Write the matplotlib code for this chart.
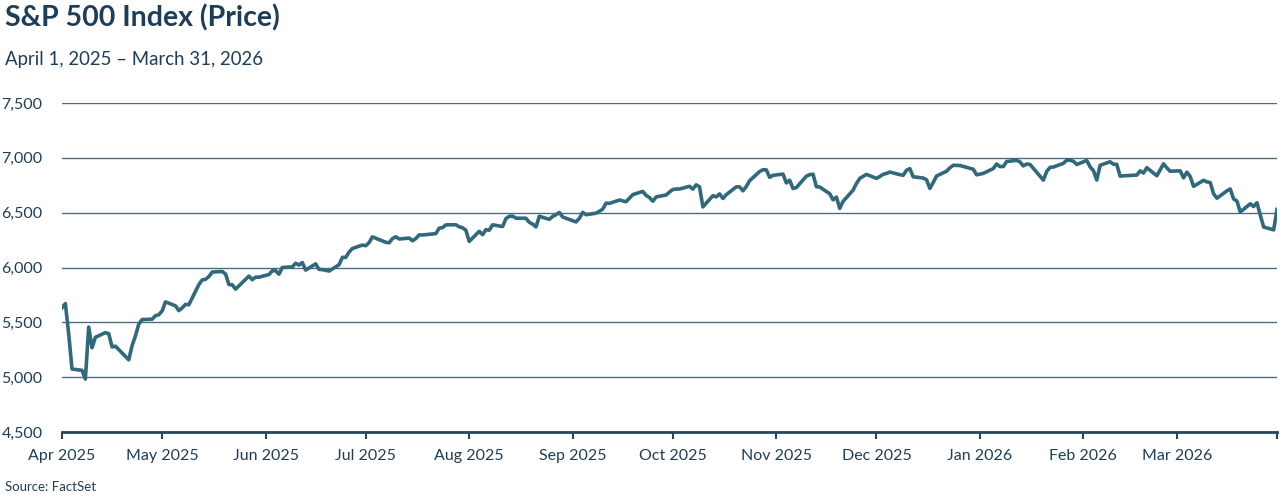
import pandas as pd
import numpy as np
import matplotlib
matplotlib.use("Agg")
import matplotlib.pyplot as plt
import matplotlib.dates as mdates
from matplotlib.ticker import FuncFormatter

# daily closes, by month
apr_2025 = [5633.07, 5670.97, 5396.52, 5074.08, 5062.25, 4982.77, 5456.90, 5268.05, 5363.36, 5405.97,
            5396.63, 5275.70, 5282.70, 5158.20, 5287.76, 5375.86, 5484.77, 5525.21, 5528.75, 5560.83, 5569.06]
may_2025 = [5604.14, 5686.67, 5650.38, 5606.91, 5631.28, 5663.94, 5659.91, 5844.19, 5886.55, 5892.58,
            5916.93, 5958.38, 5963.60, 5940.46, 5844.61, 5842.01, 5802.82, 5921.54, 5888.55, 5912.17, 5911.69]
jun_2025 = [5935.94, 5970.37, 5970.81, 5939.30, 6000.36, 6005.88, 6038.81, 6022.24, 6045.26, 5976.97,
            6033.11, 5982.72, 5980.87, 5967.84, 6025.17, 6092.18, 6092.16, 6141.02, 6173.07, 6204.95]
jul_2025 = [6198.01, 6227.42, 6279.35, 6229.98, 6225.52, 6263.26, 6280.46, 6259.75, 6268.56, 6243.76, 6263.70,
            6297.36, 6296.79, 6305.60, 6309.62, 6358.91, 6363.35, 6388.64, 6389.77, 6370.86, 6362.90, 6339.39]
aug_2025 = [6238.01, 6329.94, 6299.19, 6345.06, 6340.00, 6389.45, 6373.45, 6445.76, 6466.58, 6468.54,
            6449.80, 6449.15, 6411.37, 6395.78, 6370.17, 6466.91, 6439.32, 6465.94, 6481.40, 6501.86, 6460.26]
sep_2025 = [6415.54, 6448.26, 6502.08, 6481.50, 6495.15, 6512.61, 6532.04, 6587.47, 6584.29, 6615.28,
            6606.76, 6600.35, 6631.96, 6664.36, 6693.75, 6656.92, 6637.97, 6604.72, 6643.70, 6661.21, 6688.46]
oct_2025 = [6711.20, 6715.35, 6715.79, 6740.28, 6714.59, 6753.72, 6735.11, 6552.51, 6654.72, 6644.31, 6671.06, 6629.07,
            6664.01, 6735.13, 6735.35, 6699.40, 6738.44, 6791.69, 6875.16, 6890.89, 6890.59, 6822.34, 6840.20]
nov_2025 = [6851.97, 6771.55, 6796.29, 6720.32, 6728.80, 6832.43, 6846.61, 6850.92, 6737.49, 6734.11,
            6672.41, 6617.32, 6642.16, 6538.76, 6602.99, 6705.12, 6765.88, 6812.61, 6849.09]
dec_2025 = [6812.63, 6829.37, 6849.72, 6857.12, 6870.40, 6846.51, 6840.51, 6886.68, 6901.00, 6827.41, 6816,
            6800, 6721, 6775, 6834, 6878, 6909, 6932, 6930, 6905, 6896, 6845]
jan_2026 = [6858, 6902, 6944, 6920, 6921, 6966, 6977, 6963, 6926, 6944,
            6940, 6797, 6876, 6913, 6916, 6950, 6979, 6978, 6969, 6939]
feb_2026 = [6976, 6918, 6883, 6798, 6932, 6964, 6942, 6941, 6833, 6836,
            6843, 6881, 6861, 6910, 6837, 6890, 6946, 6908, 6878]
mar_2026 = [6881, 6817, 6869, 6830, 6740, 6795, 6781, 6775, 6672, 6632, 6699,
            6716, 6625, 6606, 6506, 6581, 6556, 6591, 6477, 6369, 6343, 6529]

holidays = ["2025-04-18", "2025-05-26", "2025-06-19", "2025-07-04", "2025-09-01",
            "2025-11-27", "2025-12-25", "2026-01-01", "2026-01-19", "2026-02-16"]

closes = (apr_2025 + may_2025 + jun_2025 + jul_2025 + aug_2025 + sep_2025 +
          oct_2025 + nov_2025 + dec_2025 + jan_2026 + feb_2026 + mar_2026)
days = pd.bdate_range("2025-04-01", "2026-03-31")
days = days[~days.isin(pd.to_datetime(holidays))]
assert len(days) == len(closes)

text_col = "#1e3d58"
line_col = "#30697b"
grid_col = "#4f6b80"

plt.rcParams["font.family"] = ["Lato", "DejaVu Sans"]

fig = plt.figure(figsize=(12.8, 4.97), dpi=100)
ax = fig.add_axes([62 / 1280, 65 / 497, 1215 / 1280, 329 / 497])

ax.plot(days, closes, color=line_col, lw=2.6, solid_joinstyle="round", zorder=3)

ax.set_xlim(pd.Timestamp("2025-04-01"), pd.Timestamp("2026-03-31"))
ax.set_ylim(4500, 7500)
ax.set_yticks(np.arange(4500, 7501, 500))
ax.yaxis.set_major_formatter(FuncFormatter(lambda v, p: f"{int(v):,}"))
ax.grid(axis="y", color=grid_col, lw=1.0, zorder=1)

ax.xaxis.set_major_locator(mdates.MonthLocator())
ax.xaxis.set_major_formatter(mdates.DateFormatter("%b %Y"))
ax.set_xticks([pd.Timestamp("2026-03-31")], minor=True)

for s in ["top", "right", "left"]:
    ax.spines[s].set_visible(False)
ax.spines["bottom"].set_color("#25475f")
ax.spines["bottom"].set_linewidth(2)

ax.tick_params(axis="y", length=0, pad=14, labelsize=11.5, labelcolor=text_col)
ax.tick_params(axis="x", which="both", length=5, width=1.5, color="#25475f", pad=7,
               labelsize=11.5, labelcolor=text_col)

fig.text(5 / 1280, 1 - 18 / 497, "S&P 500 Index (Price)", fontsize=20.5, fontweight="bold",
         color=text_col, va="center", ha="left")
fig.text(5 / 1280, 1 - 60 / 497, "April 1, 2025 \u2013 March 31, 2026", fontsize=13.4,
         color=text_col, va="center", ha="left")
fig.text(5 / 1280, 1 - 487 / 497, "Source: FactSet", fontsize=9.5, color=text_col,
         va="center", ha="left")

fig.savefig("out.png", dpi=100)
